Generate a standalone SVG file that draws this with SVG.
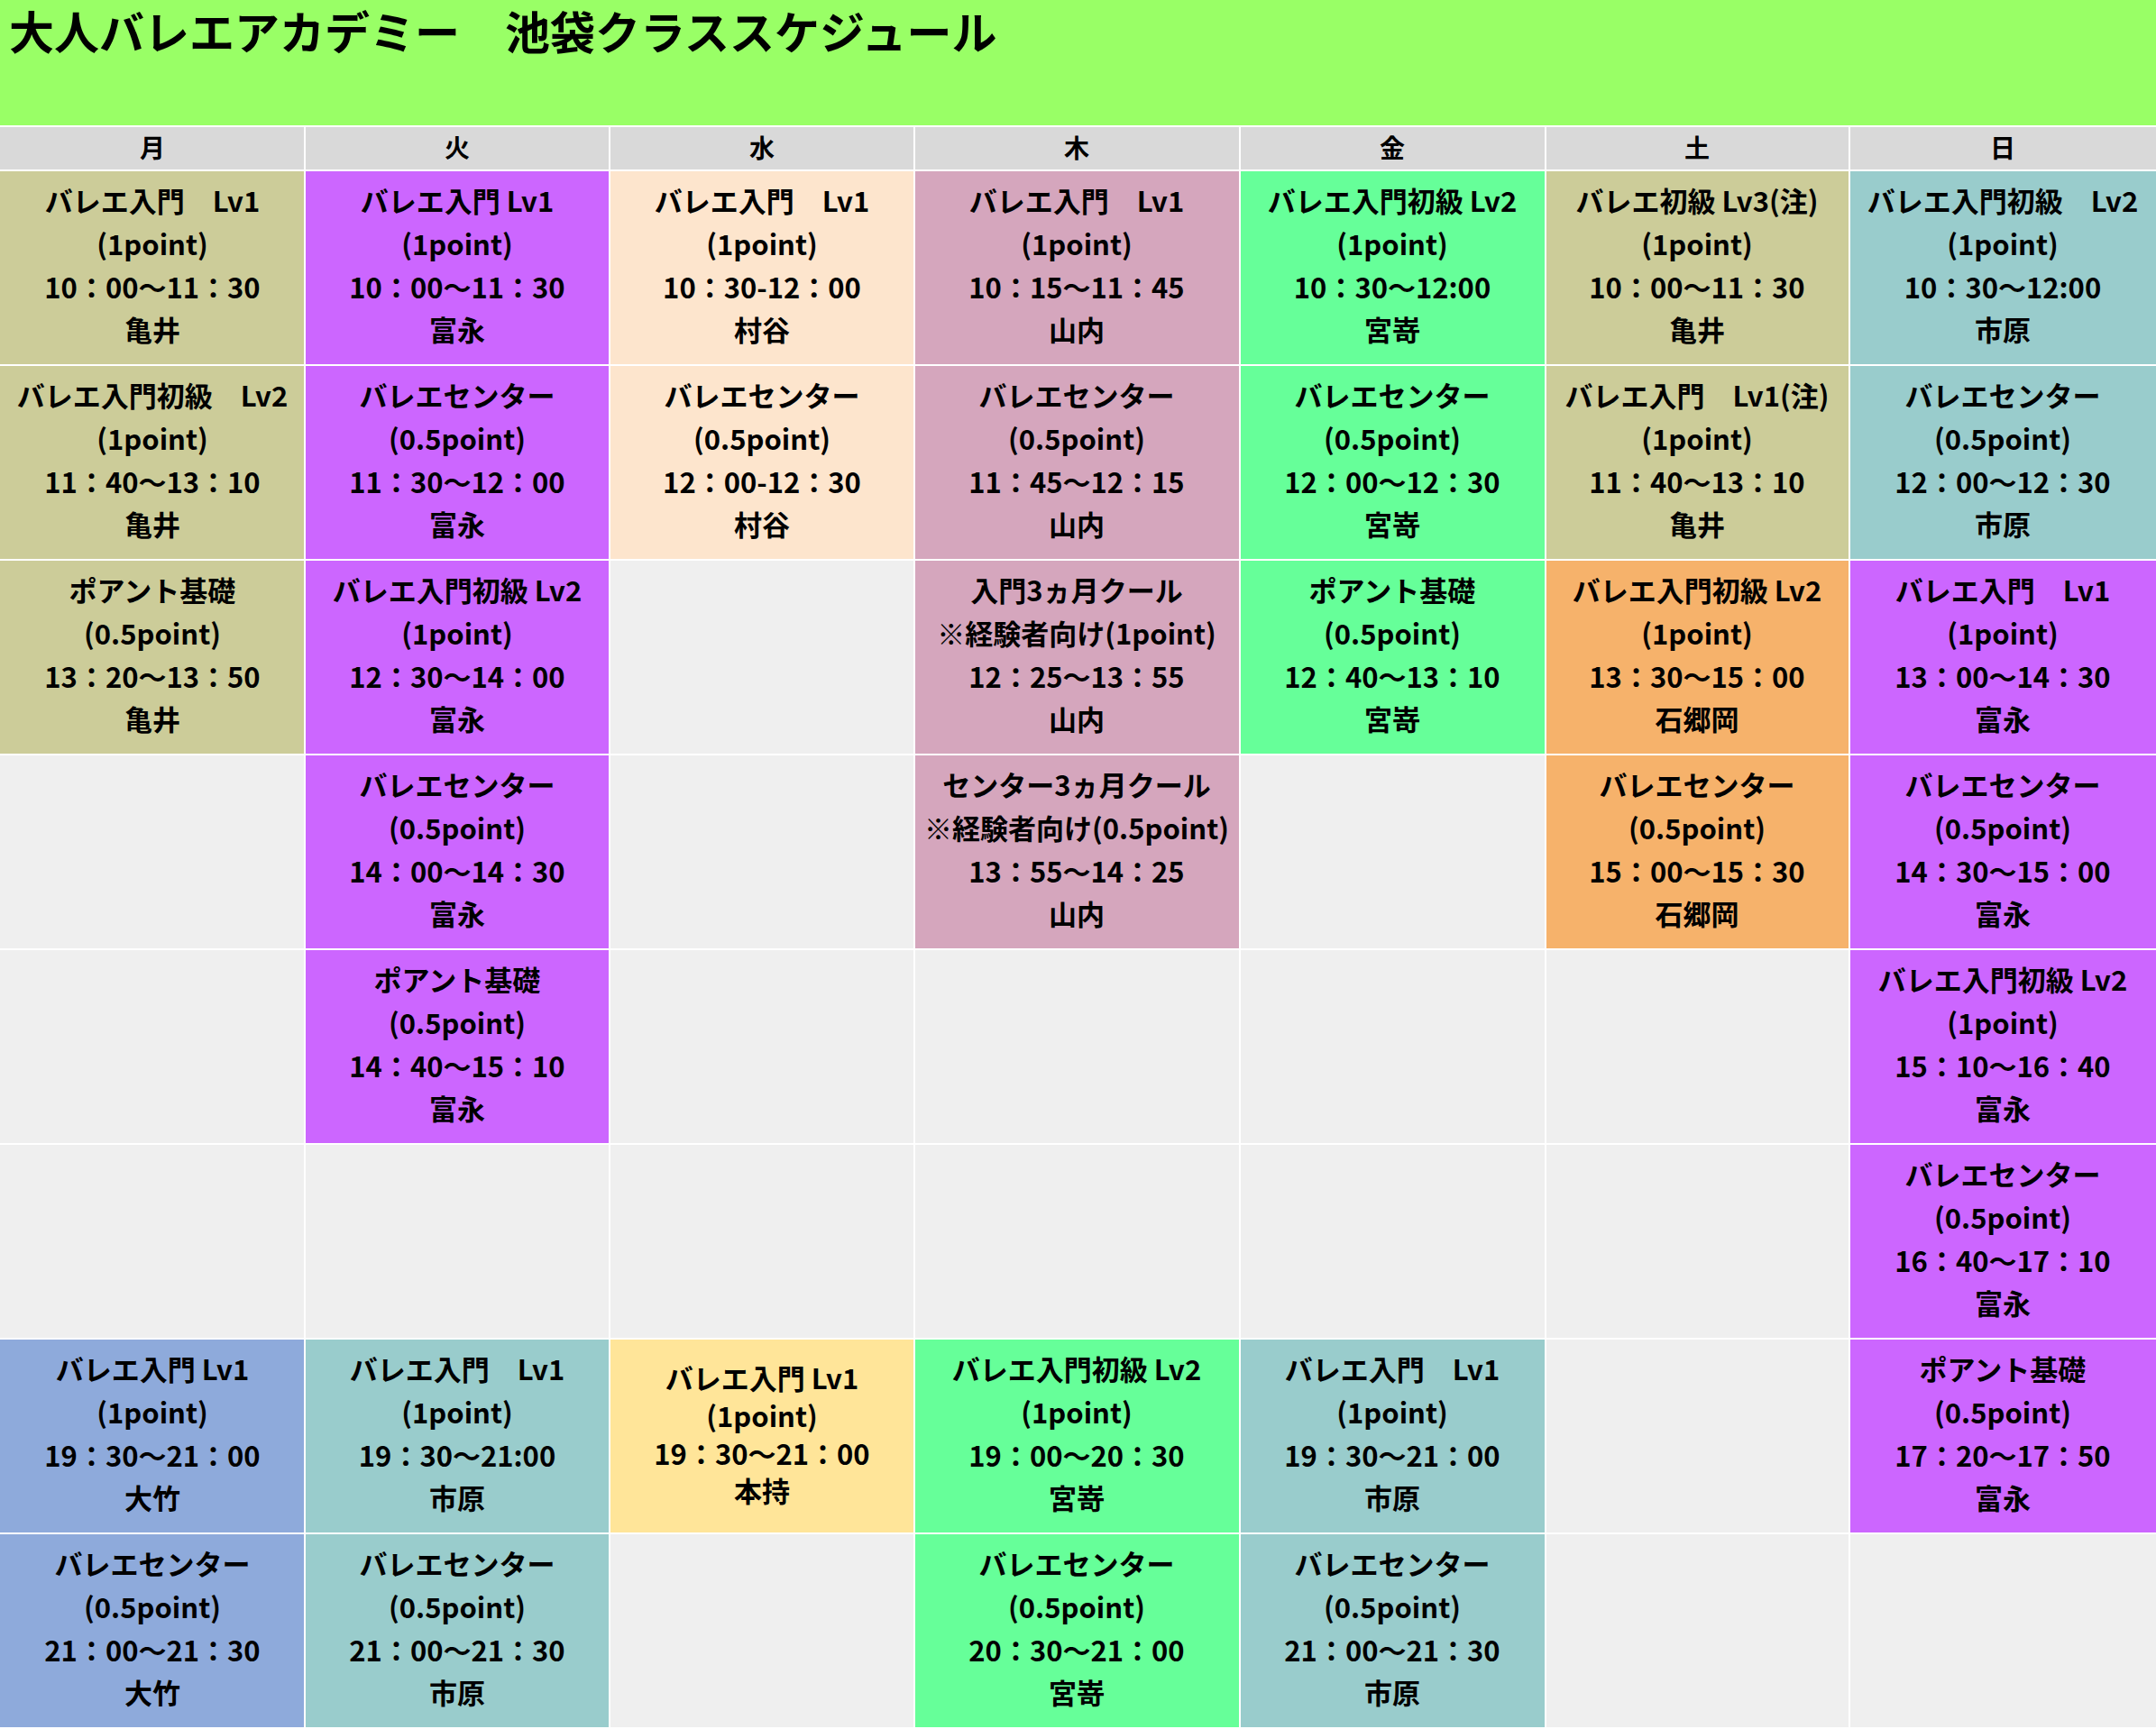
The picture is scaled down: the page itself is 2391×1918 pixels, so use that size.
<svg xmlns="http://www.w3.org/2000/svg" width="2391" height="1918" viewBox="0 0 2391 1918">
<style>
text{font-family:"Noto Sans CJK JP","Noto Sans",sans-serif;font-weight:bold;fill:#000;text-anchor:middle;dominant-baseline:central}
.t{font-size:31px}
.h{font-size:28px}
.ttl{font-size:50px;text-anchor:start}
.e{fill:#efefef}.ol{fill:#cccc99}.pu{fill:#cc66ff}.pe{fill:#fde5cd}.mv{fill:#d5a6bd}.gr{fill:#66ff99}.te{fill:#99cccc}.or{fill:#f6b26b}.bl{fill:#8eaadb}.ye{fill:#ffe599}.hd{fill:#d9d9d9}
</style>
<rect width="2391" height="1918" fill="#ffffff"/>
<g id="title"><rect x="0" y="0" width="2391" height="139" fill="#99ff66"/><text class="ttl" x="10" y="33">大人バレエアカデミー　池袋クラススケジュール</text></g>
<g id="header">
<rect class="hd" x="0" y="141" width="337" height="47"/><text class="h" x="169" y="163">月</text>
<rect class="hd" x="339" y="141" width="336" height="47"/><text class="h" x="507" y="163">火</text>
<rect class="hd" x="677" y="141" width="336" height="47"/><text class="h" x="845" y="163">水</text>
<rect class="hd" x="1015" y="141" width="359" height="47"/><text class="h" x="1194" y="163">木</text>
<rect class="hd" x="1376" y="141" width="337" height="47"/><text class="h" x="1544" y="163">金</text>
<rect class="hd" x="1715" y="141" width="335" height="47"/><text class="h" x="1882" y="163">土</text>
<rect class="hd" x="2052" y="141" width="339" height="47"/><text class="h" x="2221" y="163">日</text>
</g>
<g id="empty">
<rect class="e" x="0" y="838" width="337" height="214"/>
<rect class="e" x="0" y="1054" width="337" height="214"/>
<rect class="e" x="0" y="1270" width="337" height="214"/>
<rect class="e" x="339" y="1270" width="336" height="214"/>
<rect class="e" x="677" y="622" width="336" height="214"/>
<rect class="e" x="677" y="838" width="336" height="214"/>
<rect class="e" x="677" y="1054" width="336" height="214"/>
<rect class="e" x="677" y="1270" width="336" height="214"/>
<rect class="e" x="677" y="1702" width="336" height="214"/>
<rect class="e" x="1015" y="1054" width="359" height="214"/>
<rect class="e" x="1015" y="1270" width="359" height="214"/>
<rect class="e" x="1376" y="838" width="337" height="214"/>
<rect class="e" x="1376" y="1054" width="337" height="214"/>
<rect class="e" x="1376" y="1270" width="337" height="214"/>
<rect class="e" x="1715" y="1054" width="335" height="214"/>
<rect class="e" x="1715" y="1270" width="335" height="214"/>
<rect class="e" x="1715" y="1486" width="335" height="214"/>
<rect class="e" x="1715" y="1702" width="335" height="214"/>
<rect class="e" x="2052" y="1702" width="339" height="214"/>
</g>
<g id="mon-1"><rect class="ol" x="0" y="190" width="337" height="214"/><text class="t" x="169" y="221">バレエ入門　Lv1</text><text class="t" x="169" y="269">(1point)</text><text class="t" x="169" y="317">10：00～11：30</text><text class="t" x="169" y="364">亀井</text></g>
<g id="mon-2"><rect class="ol" x="0" y="406" width="337" height="214"/><text class="t" x="169" y="437">バレエ入門初級　Lv2</text><text class="t" x="169" y="485">(1point)</text><text class="t" x="169" y="533">11：40～13：10</text><text class="t" x="169" y="580">亀井</text></g>
<g id="mon-3"><rect class="ol" x="0" y="622" width="337" height="214"/><text class="t" x="169" y="653">ポアント基礎</text><text class="t" x="169" y="701">(0.5point)</text><text class="t" x="169" y="749">13：20～13：50</text><text class="t" x="169" y="796">亀井</text></g>
<g id="mon-4"><rect class="bl" x="0" y="1486" width="337" height="214"/><text class="t" x="169" y="1517">バレエ入門 Lv1</text><text class="t" x="169" y="1565">(1point)</text><text class="t" x="169" y="1613">19：30～21：00</text><text class="t" x="169" y="1660">大竹</text></g>
<g id="mon-5"><rect class="bl" x="0" y="1702" width="337" height="214"/><text class="t" x="169" y="1733">バレエセンター</text><text class="t" x="169" y="1781">(0.5point)</text><text class="t" x="169" y="1829">21：00～21：30</text><text class="t" x="169" y="1876">大竹</text></g>

<g id="tue-1"><rect class="pu" x="339" y="190" width="336" height="214"/><text class="t" x="507" y="221">バレエ入門 Lv1</text><text class="t" x="507" y="269">(1point)</text><text class="t" x="507" y="317">10：00～11：30</text><text class="t" x="507" y="364">富永</text></g>
<g id="tue-2"><rect class="pu" x="339" y="406" width="336" height="214"/><text class="t" x="507" y="437">バレエセンター</text><text class="t" x="507" y="485">(0.5point)</text><text class="t" x="507" y="533">11：30～12：00</text><text class="t" x="507" y="580">富永</text></g>
<g id="tue-3"><rect class="pu" x="339" y="622" width="336" height="214"/><text class="t" x="507" y="653">バレエ入門初級 Lv2</text><text class="t" x="507" y="701">(1point)</text><text class="t" x="507" y="749">12：30～14：00</text><text class="t" x="507" y="796">富永</text></g>
<g id="tue-4"><rect class="pu" x="339" y="838" width="336" height="214"/><text class="t" x="507" y="869">バレエセンター</text><text class="t" x="507" y="917">(0.5point)</text><text class="t" x="507" y="965">14：00～14：30</text><text class="t" x="507" y="1012">富永</text></g>
<g id="tue-5"><rect class="pu" x="339" y="1054" width="336" height="214"/><text class="t" x="507" y="1085">ポアント基礎</text><text class="t" x="507" y="1133">(0.5point)</text><text class="t" x="507" y="1181">14：40～15：10</text><text class="t" x="507" y="1228">富永</text></g>
<g id="tue-6"><rect class="te" x="339" y="1486" width="336" height="214"/><text class="t" x="507" y="1517">バレエ入門　Lv1</text><text class="t" x="507" y="1565">(1point)</text><text class="t" x="507" y="1613">19：30～21:00</text><text class="t" x="507" y="1660">市原</text></g>
<g id="tue-7"><rect class="te" x="339" y="1702" width="336" height="214"/><text class="t" x="507" y="1733">バレエセンター</text><text class="t" x="507" y="1781">(0.5point)</text><text class="t" x="507" y="1829">21：00～21：30</text><text class="t" x="507" y="1876">市原</text></g>

<g id="wed-1"><rect class="pe" x="677" y="190" width="336" height="214"/><text class="t" x="845" y="221">バレエ入門　Lv1</text><text class="t" x="845" y="269">(1point)</text><text class="t" x="845" y="317">10：30-12：00</text><text class="t" x="845" y="364">村谷</text></g>
<g id="wed-2"><rect class="pe" x="677" y="406" width="336" height="214"/><text class="t" x="845" y="437">バレエセンター</text><text class="t" x="845" y="485">(0.5point)</text><text class="t" x="845" y="533">12：00-12：30</text><text class="t" x="845" y="580">村谷</text></g>
<g id="wed-3"><rect class="ye" x="677" y="1486" width="336" height="214"/><text class="t" x="845" y="1527">バレエ入門 Lv1</text><text class="t" x="845" y="1569">(1point)</text><text class="t" x="845" y="1611">19：30～21：00</text><text class="t" x="845" y="1652">本持</text></g>

<g id="thu-1"><rect class="mv" x="1015" y="190" width="359" height="214"/><text class="t" x="1194" y="221">バレエ入門　Lv1</text><text class="t" x="1194" y="269">(1point)</text><text class="t" x="1194" y="317">10：15～11：45</text><text class="t" x="1194" y="364">山内</text></g>
<g id="thu-2"><rect class="mv" x="1015" y="406" width="359" height="214"/><text class="t" x="1194" y="437">バレエセンター</text><text class="t" x="1194" y="485">(0.5point)</text><text class="t" x="1194" y="533">11：45～12：15</text><text class="t" x="1194" y="580">山内</text></g>
<g id="thu-3"><rect class="mv" x="1015" y="622" width="359" height="214"/><text class="t" x="1194" y="653">入門3ヵ月クール</text><text class="t" x="1194" y="701">※経験者向け(1point)</text><text class="t" x="1194" y="749">12：25～13：55</text><text class="t" x="1194" y="796">山内</text></g>
<g id="thu-4"><rect class="mv" x="1015" y="838" width="359" height="214"/><text class="t" x="1194" y="869">センター3ヵ月クール</text><text class="t" x="1194" y="917">※経験者向け(0.5point)</text><text class="t" x="1194" y="965">13：55～14：25</text><text class="t" x="1194" y="1012">山内</text></g>
<g id="thu-5"><rect class="gr" x="1015" y="1486" width="359" height="214"/><text class="t" x="1194" y="1517">バレエ入門初級 Lv2</text><text class="t" x="1194" y="1565">(1point)</text><text class="t" x="1194" y="1613">19：00～20：30</text><text class="t" x="1194" y="1660">宮嵜</text></g>
<g id="thu-6"><rect class="gr" x="1015" y="1702" width="359" height="214"/><text class="t" x="1194" y="1733">バレエセンター</text><text class="t" x="1194" y="1781">(0.5point)</text><text class="t" x="1194" y="1829">20：30～21：00</text><text class="t" x="1194" y="1876">宮嵜</text></g>

<g id="fri-1"><rect class="gr" x="1376" y="190" width="337" height="214"/><text class="t" x="1544" y="221">バレエ入門初級 Lv2</text><text class="t" x="1544" y="269">(1point)</text><text class="t" x="1544" y="317">10：30～12:00</text><text class="t" x="1544" y="364">宮嵜</text></g>
<g id="fri-2"><rect class="gr" x="1376" y="406" width="337" height="214"/><text class="t" x="1544" y="437">バレエセンター</text><text class="t" x="1544" y="485">(0.5point)</text><text class="t" x="1544" y="533">12：00～12：30</text><text class="t" x="1544" y="580">宮嵜</text></g>
<g id="fri-3"><rect class="gr" x="1376" y="622" width="337" height="214"/><text class="t" x="1544" y="653">ポアント基礎</text><text class="t" x="1544" y="701">(0.5point)</text><text class="t" x="1544" y="749">12：40～13：10</text><text class="t" x="1544" y="796">宮嵜</text></g>
<g id="fri-4"><rect class="te" x="1376" y="1486" width="337" height="214"/><text class="t" x="1544" y="1517">バレエ入門　Lv1</text><text class="t" x="1544" y="1565">(1point)</text><text class="t" x="1544" y="1613">19：30～21：00</text><text class="t" x="1544" y="1660">市原</text></g>
<g id="fri-5"><rect class="te" x="1376" y="1702" width="337" height="214"/><text class="t" x="1544" y="1733">バレエセンター</text><text class="t" x="1544" y="1781">(0.5point)</text><text class="t" x="1544" y="1829">21：00～21：30</text><text class="t" x="1544" y="1876">市原</text></g>

<g id="sat-1"><rect class="ol" x="1715" y="190" width="335" height="214"/><text class="t" x="1882" y="221">バレエ初級 Lv3(注)</text><text class="t" x="1882" y="269">(1point)</text><text class="t" x="1882" y="317">10：00～11：30</text><text class="t" x="1882" y="364">亀井</text></g>
<g id="sat-2"><rect class="ol" x="1715" y="406" width="335" height="214"/><text class="t" x="1882" y="437">バレエ入門　Lv1(注)</text><text class="t" x="1882" y="485">(1point)</text><text class="t" x="1882" y="533">11：40～13：10</text><text class="t" x="1882" y="580">亀井</text></g>
<g id="sat-3"><rect class="or" x="1715" y="622" width="335" height="214"/><text class="t" x="1882" y="653">バレエ入門初級 Lv2</text><text class="t" x="1882" y="701">(1point)</text><text class="t" x="1882" y="749">13：30～15：00</text><text class="t" x="1882" y="796">石郷岡</text></g>
<g id="sat-4"><rect class="or" x="1715" y="838" width="335" height="214"/><text class="t" x="1882" y="869">バレエセンター</text><text class="t" x="1882" y="917">(0.5point)</text><text class="t" x="1882" y="965">15：00～15：30</text><text class="t" x="1882" y="1012">石郷岡</text></g>

<g id="sun-1"><rect class="te" x="2052" y="190" width="339" height="214"/><text class="t" x="2221" y="221">バレエ入門初級　Lv2</text><text class="t" x="2221" y="269">(1point)</text><text class="t" x="2221" y="317">10：30～12:00</text><text class="t" x="2221" y="364">市原</text></g>
<g id="sun-2"><rect class="te" x="2052" y="406" width="339" height="214"/><text class="t" x="2221" y="437">バレエセンター</text><text class="t" x="2221" y="485">(0.5point)</text><text class="t" x="2221" y="533">12：00～12：30</text><text class="t" x="2221" y="580">市原</text></g>
<g id="sun-3"><rect class="pu" x="2052" y="622" width="339" height="214"/><text class="t" x="2221" y="653">バレエ入門　Lv1</text><text class="t" x="2221" y="701">(1point)</text><text class="t" x="2221" y="749">13：00～14：30</text><text class="t" x="2221" y="796">富永</text></g>
<g id="sun-4"><rect class="pu" x="2052" y="838" width="339" height="214"/><text class="t" x="2221" y="869">バレエセンター</text><text class="t" x="2221" y="917">(0.5point)</text><text class="t" x="2221" y="965">14：30～15：00</text><text class="t" x="2221" y="1012">富永</text></g>
<g id="sun-5"><rect class="pu" x="2052" y="1054" width="339" height="214"/><text class="t" x="2221" y="1085">バレエ入門初級 Lv2</text><text class="t" x="2221" y="1133">(1point)</text><text class="t" x="2221" y="1181">15：10～16：40</text><text class="t" x="2221" y="1228">富永</text></g>
<g id="sun-6"><rect class="pu" x="2052" y="1270" width="339" height="214"/><text class="t" x="2221" y="1301">バレエセンター</text><text class="t" x="2221" y="1349">(0.5point)</text><text class="t" x="2221" y="1397">16：40～17：10</text><text class="t" x="2221" y="1444">富永</text></g>
<g id="sun-7"><rect class="pu" x="2052" y="1486" width="339" height="214"/><text class="t" x="2221" y="1517">ポアント基礎</text><text class="t" x="2221" y="1565">(0.5point)</text><text class="t" x="2221" y="1613">17：20～17：50</text><text class="t" x="2221" y="1660">富永</text></g>
</svg>
